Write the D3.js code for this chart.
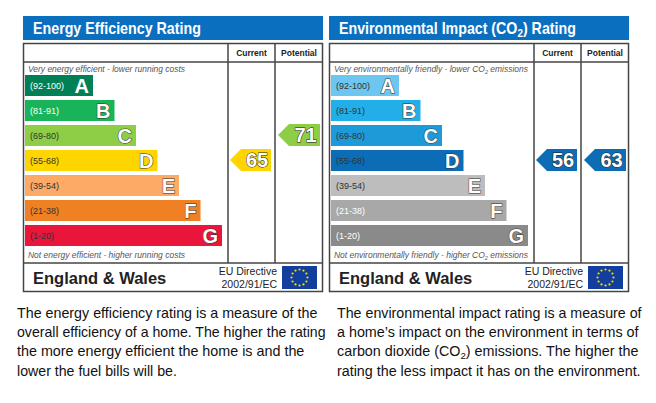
<!DOCTYPE html>
<html>
<head>
<meta charset="utf-8">
<script src="https://cdn.jsdelivr.net/npm/d3@7"></script>
<style>
  body { margin: 0; background: #fff; }
  svg { display: block; font-family: "Liberation Sans", Arial, sans-serif; }
</style>
</head>
<body>
<div id="chart"></div>
<script>
// bands shared by both ratings
const letters = ["A", "B", "C", "D", "E", "F", "G"];
const ranges = ["(92-100)", "(81-91)", "(69-80)", "(55-68)", "(39-54)", "(21-38)", "(1-20)"];
const bandMin = [92, 81, 69, 55, 39, 21, 1];

// energy efficiency
const energyColors = ["#008054", "#19b459", "#8dce46", "#ffd500", "#fcaa65", "#ef8023", "#e9153b"];
const energyLabelColors = ["#fff", "#fff", "#333", "#333", "#333", "#333", "#333"];
const energyCurrent = 65;
const energyPotential = 71;

// environmental impact
const envColors = ["#6cc6f0", "#22aee9", "#1d9bd8", "#0c6db6", "#bdbdbd", "#a8a8a8", "#8a8a8a"];
const envLabelColors = ["#333", "#333", "#333", "#333", "#333", "#fff", "#fff"];
const envCurrent = 56;
const envPotential = 63;

const leftText = [
  "The energy efficiency rating is a measure of the",
  "overall efficiency of a home. The higher the rating",
  "the more energy efficient the home is and the",
  "lower the fuel bills will be."
];
const leftWidths = [301, 309, 288, 160];
const rightText = [
  "The environmental impact rating is a measure of",
  "a home\u2019s impact on the environment in terms of",
  ["carbon dioxide (CO", "2", ") emissions. The higher the"],
  "rating the less impact it has on the environment."
];
const rightWidths = [305, 302, 302, 304];

const svg = d3.select("#chart").append("svg")
  .attr("width", 656)
  .attr("height", 403);

// rows and bar lengths
const y = d3.scaleBand().domain(letters).range([73, 248]).paddingInner(0.16).paddingOuter(0.08);
const barW = d3.scaleLinear().domain([0, 6]).range([68, 197]);

function bandOf(v) {
  return letters[bandMin.findIndex(m => v >= m)];
}

// squeeze/stretch a text horizontally to the width
function fitWidth(sel, x, w) {
  const cur = sel.node().getBBox().width;
  if (!cur) return;
  const k = w / cur;
  sel.attr("transform", `translate(${x},0) scale(${k},1) translate(${-x},0)`);
}

function addParts(t, parts, subSize, shift) {
  parts.forEach((s, i) => t.append("tspan").text(s)
    .attr("font-size", i === 1 ? subSize : null)
    .attr("dy", i === 1 ? shift : (i === 2 ? -shift : null)));
}

function arrow(g, x0, x1, letter, value, color) {
  const top = y(letter) - 1, h = y.bandwidth() + 1, tip = 11;
  g.append("path")
    .attr("d", `M${x0},${top + h / 2}L${x0 + tip},${top}L${x1},${top}L${x1},${top + h}L${x0 + tip},${top + h}Z`)
    .attr("fill", color);
  g.append("text")
    .attr("x", (x0 + tip + x1) / 2 + 1)
    .attr("y", top + h / 2 + 7)
    .attr("text-anchor", "middle")
    .attr("font-size", 20)
    .attr("font-weight", "bold")
    .attr("fill", "#fff")
    .attr("stroke", "#222")
    .attr("stroke-width", 1)
    .attr("paint-order", "stroke")
    .text(value);
}

function drawChart(x0, opts) {
  const g = svg.append("g").attr("transform", `translate(${x0},0)`);
  const W = 300, c1 = 205, c2 = 252;

  // title band
  g.append("rect").attr("x", 0).attr("y", 16).attr("width", W).attr("height", 24).attr("fill", "#0b6fc0");
  const t = g.append("text").attr("x", 10).attr("y", 34.5).attr("fill", "#fff")
    .attr("font-size", 16.5).attr("font-weight", "bold");
  addParts(t, opts.title, 11.5, 3);
  fitWidth(t, 10, opts.titleW);

  // frame
  g.append("rect").attr("x", 0.5).attr("y", 43.5).attr("width", W - 1).attr("height", 248)
    .attr("fill", "#fff").attr("stroke", "#444").attr("stroke-width", 1.5);
  g.append("line").attr("x1", 0).attr("x2", W).attr("y1", 62).attr("y2", 62).attr("stroke", "#444").attr("stroke-width", 1.5);
  g.append("line").attr("x1", 0).attr("x2", W).attr("y1", 263).attr("y2", 263).attr("stroke", "#444").attr("stroke-width", 1.5);
  [c1, c2].forEach(cx => g.append("line").attr("x1", cx).attr("x2", cx).attr("y1", 43).attr("y2", 263)
    .attr("stroke", "#444").attr("stroke-width", 1.5));

  g.append("text").attr("x", (c1 + c2) / 2).attr("y", 56).attr("text-anchor", "middle")
    .attr("font-size", 8.5).attr("font-weight", "bold").attr("fill", "#222").text("Current");
  g.append("text").attr("x", (c2 + W) / 2).attr("y", 56).attr("text-anchor", "middle")
    .attr("font-size", 8.5).attr("font-weight", "bold").attr("fill", "#222").text("Potential");

  // top / bottom notes
  [[opts.topNote, 72], [opts.bottomNote, 258]].forEach(([parts, ty]) => {
    const n = g.append("text").attr("x", 5).attr("y", ty).attr("font-size", 8.5)
      .attr("font-style", "italic").attr("fill", "#555");
    addParts(n, parts, 5.5, 2);
    fitWidth(n, 5, opts.noteW);
  });

  // bars
  const rows = g.selectAll("g.row").data(letters).join("g").attr("class", "row");
  rows.append("rect")
    .attr("x", 2)
    .attr("y", d => y(d))
    .attr("width", (d, i) => barW(i))
    .attr("height", y.bandwidth())
    .attr("fill", (d, i) => opts.colors[i]);
  rows.append("text")
    .attr("x", 7)
    .attr("y", d => y(d) + y.bandwidth() / 2 + 3.5)
    .attr("font-size", 9)
    .attr("fill", (d, i) => opts.labelColors[i])
    .text((d, i) => ranges[i]);
  rows.append("text")
    .attr("x", (d, i) => 2 + barW(i) - 4)
    .attr("y", d => y(d) + y.bandwidth() / 2 + 7)
    .attr("text-anchor", "end")
    .attr("font-size", 20)
    .attr("font-weight", "bold")
    .attr("fill", "#fff")
    .attr("stroke", (d, i) => (opts.solidA && i === 0) ? "none" : "#333")
    .attr("stroke-width", 1)
    .attr("paint-order", "stroke")
    .text(d => d);

  // rating arrows
  const cb = bandOf(opts.current), pb = bandOf(opts.potential);
  arrow(g, c1 + 2, c2 - 4, cb, opts.current, opts.colors[letters.indexOf(cb)]);
  arrow(g, c2 + 3, W - 3, pb, opts.potential, opts.colors[letters.indexOf(pb)]);

  // footer
  g.append("text").attr("x", 10).attr("y", 284).attr("font-size", 16.5).attr("font-weight", "bold")
    .attr("fill", "#222").text("England & Wales");
  g.append("text").attr("x", 254).attr("y", 275).attr("text-anchor", "end").attr("font-size", 10.5)
    .attr("fill", "#222").text("EU Directive");
  g.append("text").attr("x", 254).attr("y", 288).attr("text-anchor", "end").attr("font-size", 10.5)
    .attr("fill", "#222").text("2002/91/EC");

  // EU flag
  const fx = 259, fy = 266, fw = 35, fh = 23;
  g.append("rect").attr("x", fx).attr("y", fy).attr("width", fw).attr("height", fh).attr("fill", "#123f9e");
  g.selectAll("circle.star").data(d3.range(12)).join("circle").attr("class", "star")
    .attr("cx", k => fx + fw / 2 + 8 * Math.sin(k * Math.PI / 6))
    .attr("cy", k => fy + fh / 2 - 8 * Math.cos(k * Math.PI / 6))
    .attr("r", 1.1)
    .attr("fill", "#ffdd00");

  // description
  opts.text.forEach((line, i) => {
    const p = svg.append("text").attr("x", opts.textX).attr("y", 318 + i * 19.2)
      .attr("font-size", 14).attr("fill", "#111");
    if (Array.isArray(line)) {
      addParts(p, line, 9.5, 3);
    } else {
      p.text(line);
    }
    fitWidth(p, opts.textX, opts.textW[i]);
  });
}

drawChart(23, {
  title: ["Energy Efficiency Rating"],
  titleW: 168,
  topNote: ["Very energy efficient - lower running costs"],
  bottomNote: ["Not energy efficient - higher running costs"],
  noteW: 158,
  colors: energyColors,
  labelColors: energyLabelColors,
  solidA: true,
  current: energyCurrent,
  potential: energyPotential,
  text: leftText,
  textW: leftWidths,
  textX: 17
});

drawChart(329, {
  title: ["Environmental Impact (CO", "2", ") Rating"],
  titleW: 237,
  topNote: ["Very environmentally friendly - lower CO", "2", " emissions"],
  bottomNote: ["Not environmentally friendly - higher CO", "2", " emissions"],
  noteW: 195,
  colors: envColors,
  labelColors: envLabelColors,
  solidA: false,
  current: envCurrent,
  potential: envPotential,
  text: rightText,
  textW: rightWidths,
  textX: 337
});
</script>
</body>
</html>
